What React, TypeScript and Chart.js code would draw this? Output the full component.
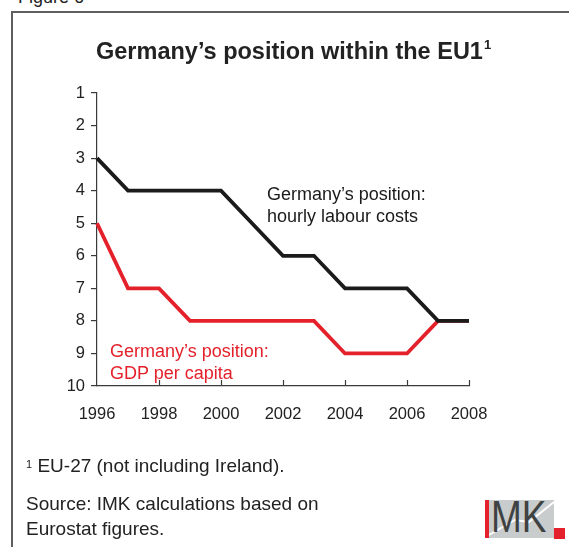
import React, { useEffect, useRef } from "react";
import { Chart, registerables } from "chart.js";

Chart.register(...registerables);

// ---- data ----
const years = ["1996", "1997", "1998", "1999", "2000", "2001", "2002", "2003", "2004", "2005", "2006", "2007", "2008"];
const labourCostRank = [3, 4, 4, 4, 4, 5, 6, 6, 7, 7, 7, 8, 8];
const gdpPerCapitaRank = [5, 7, 7, 8, 8, 8, 8, 8, 9, 9, 9, 8, 8];
const xTickLabels = ["1996", "1998", "2000", "2002", "2004", "2006", "2008"];
const yTickValues = [1, 2, 3, 4, 5, 6, 7, 8, 9, 10];

const FONT = "'Liberation Sans', Arial, Helvetica, sans-serif";
const TEXT = "#222222";
const AXIS = "#3a3a3a";
const BLACK_LINE = "#1b1b1b";
const RED_LINE = "#e4212a";

const insideXTicks = {
  id: "insideXTicks",
  afterDatasetsDraw(chart: any) {
    const x = chart.scales.x;
    const ctx = chart.ctx;
    const bottom = chart.chartArea.bottom;
    ctx.save();
    ctx.strokeStyle = AXIS;
    ctx.lineWidth = 1.2;
    years.forEach((label, i) => {
      if (!xTickLabels.includes(label) || i === 0) return;
      const px = Math.round(x.getPixelForValue(i)) + 0.5;
      ctx.beginPath();
      ctx.moveTo(px, bottom);
      ctx.lineTo(px, bottom - 6);
      ctx.stroke();
    });
    ctx.restore();
  },
};

function RankChart() {
  const ref = useRef<HTMLCanvasElement | null>(null);
  useEffect(() => {
    if (!ref.current) return;
    const chart = new Chart(ref.current, {
      type: "line",
      data: {
        labels: years,
        datasets: [
          {
            label: "Germany’s position: hourly labour costs",
            data: labourCostRank,
            borderColor: BLACK_LINE,
            borderWidth: 3.8,
            pointRadius: 0,
            tension: 0,
            borderJoinStyle: "miter",
          },
          {
            label: "Germany’s position: GDP per capita",
            data: gdpPerCapitaRank,
            borderColor: RED_LINE,
            borderWidth: 3.8,
            pointRadius: 0,
            tension: 0,
            borderJoinStyle: "miter",
          },
        ],
      },
      options: {
        responsive: false,
        animation: false,
        devicePixelRatio: 1,
        layout: { padding: { left: 0, top: 93, right: 100, bottom: 121 } },
        plugins: {
          legend: { display: false },
          title: { display: false },
          tooltip: { enabled: false },
        },
        scales: {
          x: {
            type: "category",
            offset: false,
            afterFit: (s: any) => {
              s.height = 40;
            },
            grid: { display: true, drawOnChartArea: false, drawTicks: false, color: "transparent" },
            border: { display: true, color: AXIS, width: 1.2 },
            ticks: {
              autoSkip: false,
              maxRotation: 0,
              padding: 19,
              color: TEXT,
              font: { family: FONT, size: 16.5 },
              callback: (_v: any, i: number) => (xTickLabels.includes(years[i]) ? years[i] : ""),
            },
          },
          y: {
            type: "linear",
            reverse: true,
            min: yTickValues[0],
            max: yTickValues[yTickValues.length - 1],
            afterFit: (s: any) => {
              s.width = 97;
            },
            grid: { drawOnChartArea: false, drawTicks: true, tickLength: 6, color: AXIS, lineWidth: 1.2 },
            border: { display: true, color: AXIS, width: 1.2 },
            ticks: {
              stepSize: 1,
              padding: 6,
              color: TEXT,
              font: { family: FONT, size: 16.5 },
              callback: (v: any) => (yTickValues.includes(v) ? String(v) : ""),
            },
          },
        },
      },
      plugins: [insideXTicks],
    } as any);
    return () => chart.destroy();
  }, []);
  return <canvas ref={ref} width={569} height={547} style={{ position: "absolute", left: 0, top: 0 }} />;
}

const abs = (o: React.CSSProperties): React.CSSProperties => ({ position: "absolute", whiteSpace: "nowrap", ...o });

export default function App() {
  return (
    <div
      style={{
        position: "fixed",
        left: 0,
        top: 0,
        width: 569,
        height: 547,
        overflow: "hidden",
        background: "#ffffff",
        fontFamily: FONT,
        color: TEXT,
      }}
    >
      <div style={abs({ left: 18, top: -12, fontSize: 18, lineHeight: "18px" })}>Figure 6</div>
      <div style={abs({ left: 12, top: 11, width: 600, height: 2, background: "#5e5e5e" })} />
      <div style={abs({ left: 11, top: 11, width: 2, height: 600, background: "#5e5e5e" })} />

      <RankChart />

      <div
        style={abs({
          left: 96,
          top: 38.5,
          fontSize: 23.5,
          lineHeight: "24px",
          fontWeight: "bold",
        })}
      >
        Germany’s position within the EU1
        <span style={{ fontSize: 13, position: "absolute", top: -1, marginLeft: 1, lineHeight: "13px" }}>1</span>
      </div>

      <div style={abs({ left: 267, top: 182.5, fontSize: 18, lineHeight: "22px", color: "#1a1a1a" })}>
        Germany’s position:
        <br />
        hourly labour costs
      </div>
      <div style={abs({ left: 110, top: 339.5, fontSize: 18, lineHeight: "22px", color: RED_LINE })}>
        Germany’s position:
        <br />
        GDP per capita
      </div>

      <div style={abs({ left: 26, top: 456, fontSize: 19, lineHeight: "19px" })}>
        <span style={{ fontSize: 11, verticalAlign: "top", position: "relative", top: -1 }}>1</span> EU-27 (not including Ireland).
      </div>
      <div style={abs({ left: 26, top: 491, fontSize: 19, lineHeight: "25px" })}>
        Source: IMK calculations based on
        <br />
        Eurostat figures.
      </div>

      {/* IMK logo */}
      <div style={abs({ left: 485, top: 500, width: 69, height: 38, background: "#c9cccd", overflow: "hidden" })}>
        <svg width={69} height={38} style={{ position: "absolute", left: 0, top: 0 }}>
          <polyline points="2,36 30,20 44,22 69,2" fill="none" stroke="#ffffff" strokeWidth={2} />
        </svg>
        <div style={{ position: "absolute", left: 0, top: 0, width: 4, height: 38, background: "#e3202b" }} />
        <div
          style={{
            position: "absolute",
            left: 6,
            top: -5,
            fontSize: 44,
            lineHeight: "44px",
            color: "#3f4243",
            transform: "scaleX(0.84)",
            transformOrigin: "left top",
          }}
        >
          MK
        </div>
      </div>
      <div style={abs({ left: 554, top: 528, width: 11, height: 11, background: "#e3202b" })} />
    </div>
  );
}
